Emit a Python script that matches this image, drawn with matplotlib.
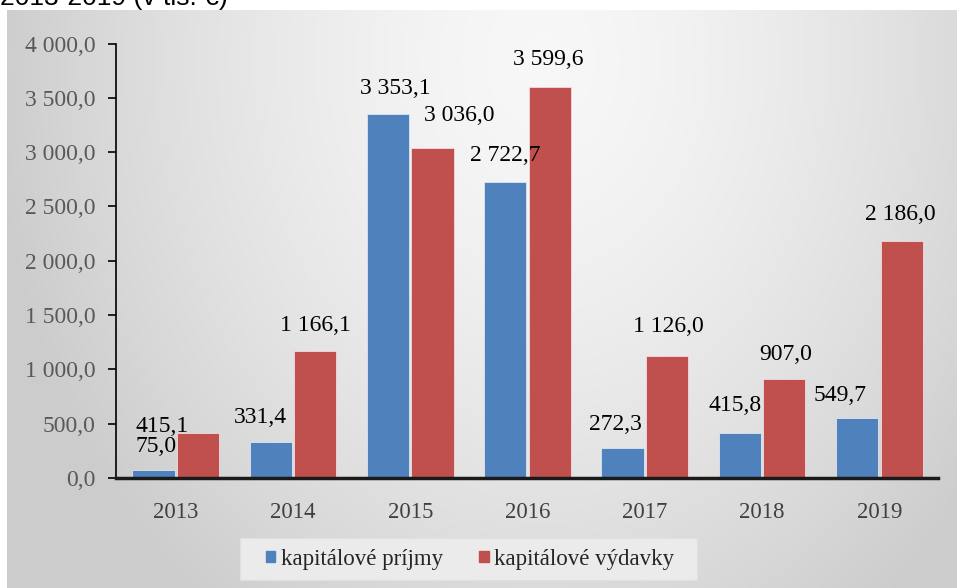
import numpy as np
import matplotlib
matplotlib.use("Agg")
import matplotlib.pyplot as plt
from matplotlib.patches import Patch, Rectangle
from matplotlib.ticker import FuncFormatter

years = ["2013", "2014", "2015", "2016", "2017", "2018", "2019"]
prijmy = [75.0, 331.4, 3353.1, 2722.7, 272.3, 415.8, 549.7]
vydavky = [415.1, 1166.1, 3036.0, 3599.6, 1126.0, 907.0, 2186.0]
series_names = ["kapitálové príjmy", "kapitálové výdavky"]
title = "2013-2019 (v tis. €)"

# label shifts in pixels (dx, dy) relative to the top centre of each bar
prijmy_shift = [(3, 23), (-10, 25), (7, 25), (0, 27), (-7, 24), (-5, 27), (-17, 23)]
vydavky_shift = [(-36, 6), (0, 26), (27, 33), (-2, 27), (1, 29), (1, 25), (-1, 26)]

blue = "#4f81bd"
red = "#c0504d"
serif = "Liberation Serif"

W, H = 957, 588
fig = plt.figure(figsize=(W / 100, H / 100), dpi=100)

# background: radial grey gradient panel, white strip at top/left
bg = fig.add_axes([0, 0, 1, 1], zorder=-1)
yy, xx = np.mgrid[0:H, 0:W]
d = np.sqrt(((xx - 540) / 530.0) ** 2 + ((yy - 60) / 673.0) ** 2)
val = np.clip(0.97 - 0.16 * d ** 1.5, 0.80, 1.0)
val[:10, :] = 1.0
val[:, :7] = 1.0
img = np.dstack([val, val, val])
bg.imshow(img, aspect="auto", extent=(0, W, H, 0))
bg.set_xlim(0, W)
bg.set_ylim(H, 0)
bg.axis("off")

fig.text(0.0, 1 - 5 / H, title, fontsize=19, family="Liberation Sans",
         color="black", va="baseline", ha="left")

ax = fig.add_axes([116 / W, (H - 478) / H, 822 / W, 434.5 / H])
ax.patch.set_alpha(0)

x = np.arange(len(years))
w = 0.36
off = 0.19
ax.bar(x - off, prijmy, w, color=blue, edgecolor="#dce6f2", linewidth=0.6)
ax.bar(x + off, vydavky, w, color=red, edgecolor="#f2dcdb", linewidth=0.6)

def fmt(v):
    return f"{v:,.1f}".replace(",", " ").replace(".", ",")

for xs, vals, shifts in [(x - off, prijmy, prijmy_shift), (x + off, vydavky, vydavky_shift)]:
    for xi, v, (dx, dy) in zip(xs, vals, shifts):
        ax.annotate(fmt(v), (xi, v), xytext=(dx, dy), textcoords="offset pixels",
                    ha="center", va="center", fontsize=17, family=serif, color="black")

ax.set_xlim(-0.51, 6.5)
ax.set_ylim(0, 4000)
ax.set_yticks(np.arange(0, 4001, 500))
ax.yaxis.set_major_formatter(FuncFormatter(lambda v, p: fmt(v)))
ax.set_xticks(x)
ax.set_xticklabels(years)

for s in ["top", "right"]:
    ax.spines[s].set_visible(False)
ax.spines["left"].set_linewidth(1.2)
ax.spines["bottom"].set_linewidth(2.5)
ax.spines["bottom"].set_color("#1a1a1a")

ax.tick_params(axis="y", direction="out", length=6, width=1.2, pad=9,
               labelsize=17, labelcolor="#595959")
ax.tick_params(axis="x", length=0, pad=17, labelsize=16.5, labelcolor="#404040")
for lab in ax.get_xticklabels() + ax.get_yticklabels():
    lab.set_family(serif)

# legend box
fig.patches.append(Rectangle((240 / W, (H - 580) / H), 457 / W, 42 / H,
                             transform=fig.transFigure, facecolor="#ebebeb",
                             edgecolor="#e0e0e0", linewidth=0.8, zorder=1))
handles = [Patch(color=blue), Patch(color=red)]
leg = fig.legend(handles, series_names, loc="center", bbox_to_anchor=(470 / W, 1 - 559 / H),
                 ncol=2, frameon=False, handlelength=0.4, handleheight=0.4,
                 handletextpad=0.25, columnspacing=1.6,
                 prop={"family": serif, "size": 16.5})
for t in leg.get_texts():
    t.set_color("#262626")
leg.set_zorder(2)

fig.savefig("out.png", dpi=100)
